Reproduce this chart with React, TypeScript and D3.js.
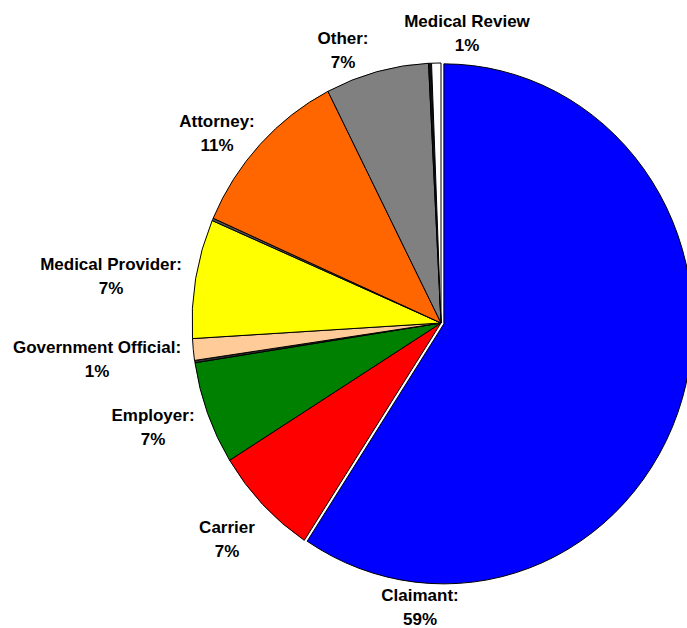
import React from "react";
import * as d3 from "d3";

// ---- data ----
const categories = [
  "Claimant",
  "Carrier",
  "Employer",
  "(blank 1)",
  "Government Official",
  "Medical Provider",
  "(blank 2)",
  "Attorney",
  "Other",
  "(blank 3)",
  "Medical Review",
];
const values = [59.25, 6.9, 6.4, 0.15, 1.35, 7.4, 0.15, 10.9, 6.7, 0.2, 0.6];
const labelTitles = [
  "Claimant:",
  "Carrier",
  "Employer:",
  "",
  "Government Official:",
  "Medical Provider:",
  "",
  "Attorney:",
  "Other:",
  "",
  "Medical Review",
];
const labelPercents = ["59%", "7%", "7%", "", "1%", "7%", "", "11%", "7%", "", "1%"];
const colors = [
  "#0000FF",
  "#FF0000",
  "#008000",
  "#333333",
  "#FFCC99",
  "#FFFF00",
  "#555555",
  "#FF6600",
  "#808080",
  "#111111",
  "#FFFFFF",
];
const exploded = ["Claimant"];

// ---- layout (label anchors: center x, first-line baseline) ----
const labelLayout: Record<string, [number, number]> = {
  Claimant: [420, 601],
  Carrier: [227, 533],
  Employer: [153, 421],
  "Government Official": [97, 353],
  "Medical Provider": [111, 270],
  Attorney: [217, 127],
  Other: [343, 44],
  "Medical Review": [467, 27],
};

const W = 687;
const H = 628;
const cx = 441;
const cy = 323;
const rx = 249;
const ry = 260;
const explode = 3;

export default function App() {
  const pie = d3
    .pie<number>()
    .sort(null)
    .value((d) => d);
  const arcs = pie(values);
  const arc = d3.arc<d3.PieArcDatum<number>>().innerRadius(0).outerRadius(1);

  return (
    <svg
      width={W}
      height={H}
      style={{ position: "absolute", left: 0, top: 0, background: "#fff" }}
      fontFamily="'Liberation Sans', Arial, sans-serif"
    >
      {arcs.map((a, i) => {
        const mid = (a.startAngle + a.endAngle) / 2;
        const off = exploded.includes(categories[i]) ? explode : 0;
        const ox = off * Math.sin(mid);
        const oy = -off * Math.cos(mid);
        return (
          <path
            key={categories[i]}
            d={arc(a) || ""}
            transform={`translate(${cx + ox},${cy + oy}) scale(${rx},${ry})`}
            fill={colors[i]}
            stroke="#000"
            strokeWidth={1}
            vectorEffect="non-scaling-stroke"
            strokeLinejoin="round"
          />
        );
      })}
      {categories.map((c, i) => {
        const pos = labelLayout[c];
        if (!pos || !labelTitles[i]) return null;
        return (
          <text
            key={"l" + c}
            x={pos[0]}
            y={pos[1]}
            textAnchor="middle"
            fontSize={17}
            fontWeight="bold"
            fill="#000"
          >
            <tspan x={pos[0]} y={pos[1]}>
              {labelTitles[i]}
            </tspan>
            <tspan x={pos[0]} y={pos[1] + 24}>
              {labelPercents[i]}
            </tspan>
          </text>
        );
      })}
    </svg>
  );
}
